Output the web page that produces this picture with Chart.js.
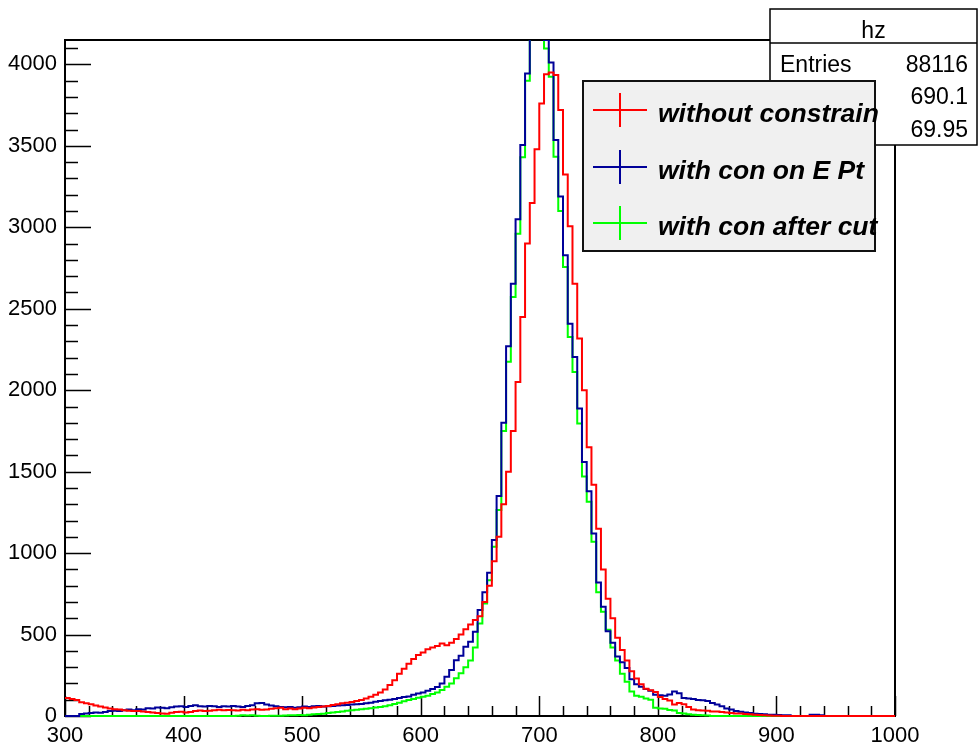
<!DOCTYPE html>
<html>
<head>
<meta charset="utf-8">
<script src="https://cdn.jsdelivr.net/npm/chart.js@4.4.1/dist/chart.umd.min.js"></script>
<style>
html,body{margin:0;padding:0;background:#fff;}
canvas{display:block;}
</style>
</head>
<body>
<canvas id="c" width="978" height="749"></canvas>
<script>
// ---- data (bins of width 4 from 300 to 1000, value per bin) ----
const xRange = [300, 1000];
const binWidth = 4;
const yRange = [0, 4150];
const xTickLabels = [300, 400, 500, 600, 700, 800, 900, 1000];
const yTickLabels = [0, 500, 1000, 1500, 2000, 2500, 3000, 3500, 4000];

const redValues = [
  110,105,98,85,78,72,65,58,52,46,
  42,40,36,32,30,30,27,25,22,18,
  15,14,20,24,26,22,24,30,34,30,
  32,35,38,35,37,36,34,38,36,40,
  42,38,40,44,48,50,42,46,42,46,
  50,48,52,55,58,62,68,72,78,82,
  86,92,98,108,118,130,145,162,190,220,
  260,290,320,350,375,390,410,420,430,445,
  435,450,472,500,532,562,590,612,700,800,
  950,1100,1300,1500,1750,2050,2450,2900,3150,3480,
  3760,3940,3950,3935,3720,3325,3006,2654,2317,2000,
  1650,1420,1150,900,720,600,480,405,340,275,
  230,195,168,158,148,117,105,95,70,80,
  72,55,40,36,34,32,28,28,25,22,
  18,16,15,12,10,8,6,4,3,2,
  1,0,0,0,0,0,0,0,0,0,
  0,0,0,0,0,0,0,0,0,0,
  0,0,0,0,0
];

const blueValues = [
  0,0,0,12,15,18,22,20,25,30,
  32,30,35,40,36,42,40,48,46,52,
  50,48,54,58,60,55,62,66,60,58,
  62,60,55,60,58,62,58,56,62,66,
  78,80,70,64,60,56,54,55,50,54,
  58,55,60,62,58,60,62,64,66,68,
  70,72,74,78,82,88,92,96,100,104,
  110,116,120,130,138,145,155,165,178,200,
  241,282,343,370,425,456,517,650,760,880,
  1080,1350,1800,2270,2654,3050,3505,3945,4250,4400,
  4350,4150,4012,3536,3190,2828,2408,2204,1887,1560,
  1380,1120,820,670,520,450,365,330,295,225,
  195,180,165,155,130,128,125,132,150,140,
  110,108,105,98,96,92,80,70,60,46,
  40,30,26,22,18,14,12,10,8,8,
  6,5,4,0,0,0,0,8,8,4,
  0,0,0,0,0,0,0,0,0,0,
  0,0,0,0,0
];

const greenValues = [
  0,0,0,0,0,0,0,0,0,0,
  0,0,0,0,0,0,0,0,0,0,
  0,0,0,0,0,0,0,0,0,0,
  0,0,0,0,0,0,2,4,3,4,
  2,0,0,1,2,2,3,4,4,6,
  5,8,10,12,14,18,22,25,28,32,
  35,38,42,45,48,52,55,60,66,74,
  82,90,98,105,112,118,125,135,145,160,
  180,200,231,262,300,340,420,568,691,834,
  1039,1264,1750,2174,2572,2960,3430,3900,4300,4450,
  4350,4098,3925,3434,3100,2757,2327,2112,1795,1470,
  1315,1069,760,640,530,420,340,260,210,150,
  125,118,108,100,50,46,44,37,34,18,
  15,10,8,6,5,3,0,0,0,0,
  0,0,0,0,0,0,0,0,0,0,
  0,0,0,0,0,0,0,0,0,0,
  0,0,0,0,0,0,0,0,0,0,
  0,0,0,0,0
];

const seriesNames = ['without constrain', 'with con on E Pt', 'with con after cut'];
const seriesColors = ['#ff0000', '#000099', '#00ff00'];

const statsTitle = 'hz';
const statsLabels = ['Entries', 'Mean', 'Std Dev'];
const statsValues = ['88116', '690.1', '69.95'];

const xMajorStep = 100, xMinorStep = 20;
const yMajorStep = 500, yMinorStep = 100;

// ---- build histogram outlines (points at bin lower edges, plus closing edge) ----
function toSteps(vals) {
  const pts = vals.map((v, i) => ({x: xRange[0] + i * binWidth, y: v}));
  pts.push({x: xRange[0] + vals.length * binWidth, y: vals[vals.length - 1]});
  return pts;
}

const FONT = "'Liberation Sans', Arial, Helvetica, sans-serif";

const rootPlugin = {
  id: 'rootStyle',
  beforeDatasetsDraw(chart) {
    const {ctx, chartArea: a, scales: {x, y}} = chart;
    ctx.save();
    ctx.strokeStyle = '#000';
    ctx.lineWidth = 2;
    ctx.strokeRect(a.left, a.top, a.right - a.left, a.bottom - a.top);
    ctx.lineWidth = 1.5;
    ctx.beginPath();
    for (let v = xRange[0]; v <= xRange[1]; v += xMinorStep) {
      const px = Math.round(x.getPixelForValue(v)) + 0.5;
      const len = (v % xMajorStep === 0) ? 20 : 10;
      ctx.moveTo(px, a.bottom);
      ctx.lineTo(px, a.bottom - len);
    }
    for (let v = yRange[0]; v <= yRange[1]; v += yMinorStep) {
      const py = Math.round(y.getPixelForValue(v)) + 0.5;
      const len = (v % yMajorStep === 0) ? 26 : 13;
      ctx.moveTo(a.left, py);
      ctx.lineTo(a.left + len, py);
    }
    ctx.stroke();
    ctx.restore();
  },
  afterDraw(chart) {
    const ctx = chart.ctx;
    ctx.save();
    // stats box
    const sx = 770, sy = 9, sw = 207, sh = 136;
    ctx.fillStyle = '#fff';
    ctx.fillRect(sx, sy, sw, sh);
    ctx.strokeStyle = '#000';
    ctx.lineWidth = 1.5;
    ctx.strokeRect(sx, sy, sw, sh);
    ctx.beginPath();
    ctx.moveTo(sx, 43); ctx.lineTo(sx + sw, 43);
    ctx.stroke();
    ctx.fillStyle = '#000';
    ctx.font = '23px ' + FONT;
    ctx.textBaseline = 'alphabetic';
    ctx.textAlign = 'center';
    ctx.fillText(statsTitle, sx + sw / 2, 38);
    const rowBase = [72, 104, 137];
    for (let i = 0; i < statsLabels.length; i++) {
      ctx.textAlign = 'left';
      ctx.fillText(statsLabels[i], 780, rowBase[i]);
      ctx.textAlign = 'right';
      ctx.fillText(statsValues[i], 968, rowBase[i]);
    }
    // legend
    const lx = 583, ly = 81, lw = 292, lh = 170;
    ctx.fillStyle = '#f0f0f0';
    ctx.fillRect(lx, ly, lw, lh);
    ctx.lineWidth = 2;
    ctx.strokeStyle = '#111';
    ctx.strokeRect(lx, ly, lw, lh);
    const rowC = [110, 167, 223];
    ctx.font = 'italic bold 26.5px ' + FONT;
    ctx.textAlign = 'left';
    for (let i = 0; i < seriesNames.length; i++) {
      ctx.strokeStyle = seriesColors[i];
      ctx.lineWidth = 2;
      ctx.beginPath();
      ctx.moveTo(593, rowC[i]); ctx.lineTo(647, rowC[i]);
      ctx.moveTo(620, rowC[i] - 17); ctx.lineTo(620, rowC[i] + 17);
      ctx.stroke();
      ctx.fillStyle = '#000';
      ctx.fillText(seriesNames[i], 658, rowC[i] + 12);
    }
    ctx.restore();
  }
};

new Chart(document.getElementById('c'), {
  type: 'line',
  data: {
    datasets: [redValues, blueValues, greenValues].map((vals, i) => ({
      label: seriesNames[i],
      data: toSteps(vals),
      borderColor: seriesColors[i],
      backgroundColor: seriesColors[i],
      borderWidth: 2,
      pointRadius: 0,
      pointHoverRadius: 0,
      fill: false,
      stepped: 'before',
      tension: 0,
      clip: {left: 1, right: 1, top: 0, bottom: 2}
    }))
  },
  options: {
    responsive: false,
    animation: false,
    devicePixelRatio: 1,
    layout: {padding: {top: 40, right: 83, left: 0, bottom: 0}},
    plugins: {legend: {display: false}, tooltip: {enabled: false}, title: {display: false}},
    scales: {
      x: {
        type: 'linear',
        min: xRange[0], max: xRange[1],
        grid: {display: false, drawTicks: false},
        border: {display: false},
        afterBuildTicks: s => { s.ticks = xTickLabels.map(v => ({value: v})); },
        ticks: {
          autoSkip: false, maxRotation: 0,
          padding: 7, color: '#000',
          font: {family: FONT, size: 22},
          callback: v => String(v)
        },
        afterFit: s => { s.height = 33; }
      },
      y: {
        type: 'linear',
        min: yRange[0], max: yRange[1],
        grid: {display: false, drawTicks: false},
        border: {display: false},
        afterBuildTicks: s => { s.ticks = yTickLabels.map(v => ({value: v})); },
        ticks: {
          autoSkip: false,
          padding: 8, color: '#000',
          font: {family: FONT, size: 22},
          callback: v => String(v)
        },
        afterFit: s => { s.width = 65; }
      }
    }
  },
  plugins: [rootPlugin]
});
</script>
</body>
</html>
